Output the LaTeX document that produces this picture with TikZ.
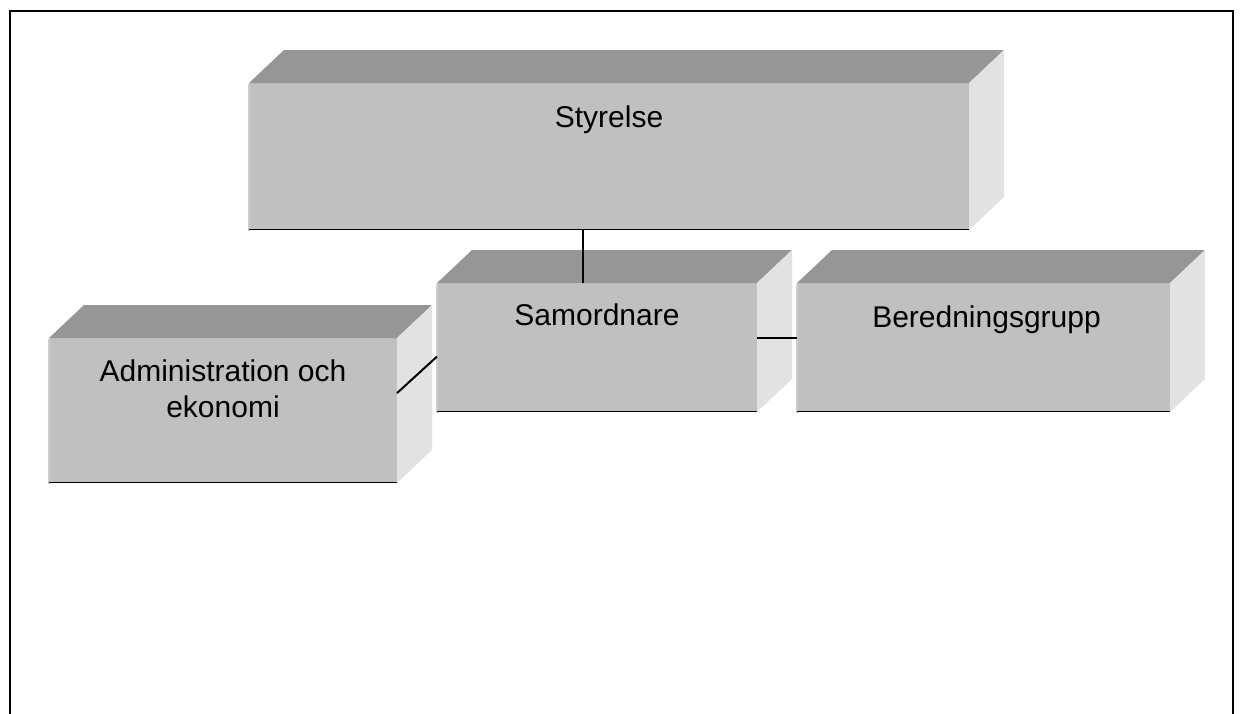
\documentclass[tikz,border=0pt]{standalone}
\usepackage{fontspec}
\setmainfont{Liberation Sans}
\usetikzlibrary{calc}
\definecolor{frontc}{HTML}{C0C0C0}
\definecolor{topc}{HTML}{969696}
\definecolor{sidec}{HTML}{E2E2E2}
\definecolor{hilite}{HTML}{CCCCCC}
\definecolor{shade}{HTML}{B2B2B2}
\tikzset{
  front/.style={rectangle, fill=frontc, draw=none, inner sep=0pt, outer sep=0pt},
  lbl/.style={inner sep=0pt, outer sep=0pt, align=center, font=\fontsize{30}{36}\selectfont},
  conn/.style={draw=black, line width=2pt},
  frame/.style={draw=black, line width=2.5pt},
}
% draw top and side of a box named #1 with depth (35,-33)
\newcommand\boxfaces[1]{%
  \fill[topc] (#1.north west) -- ++(35,-33) -- ($(#1.north east)+(35,-33)$) -- (#1.north east) -- cycle;
  \fill[sidec] (#1.north east) -- ++(35,-33) -- ($(#1.south east)+(35,-33)$) -- (#1.south east) -- cycle;
  \draw[hilite, line width=1.5pt] ([yshift=-0.75pt]#1.south west) -- ([yshift=-0.75pt]#1.north west);
  \draw[shade, line width=1.5pt] ([yshift=0.75pt]#1.south west) -- ([yshift=0.75pt]#1.south east);
}
\begin{document}
\begin{tikzpicture}[x=1pt, y=-1pt]
\useasboundingbox (0,0) rectangle (1242,713);
\draw[frame] (10,714) -- (10,11) -- (1233,11) -- (1233,714);

% Styrelse
\node[front, minimum width=720, minimum height=147] (sty) at (609,156.5) {};
\boxfaces{sty}
\node[lbl, anchor=base] (styt) at ($(sty.north)+(0,44)$) {Styrelse};

% Samordnare
\node[front, minimum width=320, minimum height=129] (sam) at (597,347.5) {};
\boxfaces{sam}
\node[lbl, anchor=base] (samt) at ($(sam.north)+(0,42)$) {Samordnare};

% Beredningsgrupp
\node[front, minimum width=373, minimum height=129] (ber) at (983.5,347.5) {};
\boxfaces{ber}
\node[lbl, anchor=base] (bert) at ($(ber.north)+(3,44)$) {Beredningsgrupp};

% Administration och ekonomi
\node[front, minimum width=348, minimum height=145] (adm) at (223,410.5) {};
\boxfaces{adm}
\node[lbl, anchor=base] (admt) at ($(adm.north)+(0,79)$) {Administration och\\ekonomi};

% connectors
\draw[conn] ([xshift=-14pt]sam.north) -- ([xshift=-14pt]sam.north |- sty.south);
\draw[conn] ($(sam.north east)!0.43!(sam.south east)$) -- ($(ber.north west)!0.43!(ber.south west)$);
\draw[conn] ($(adm.north east)!0.38!(adm.south east)$) -- ($(sam.north west)!0.57!(sam.south west)$);
\end{tikzpicture}
\end{document}
